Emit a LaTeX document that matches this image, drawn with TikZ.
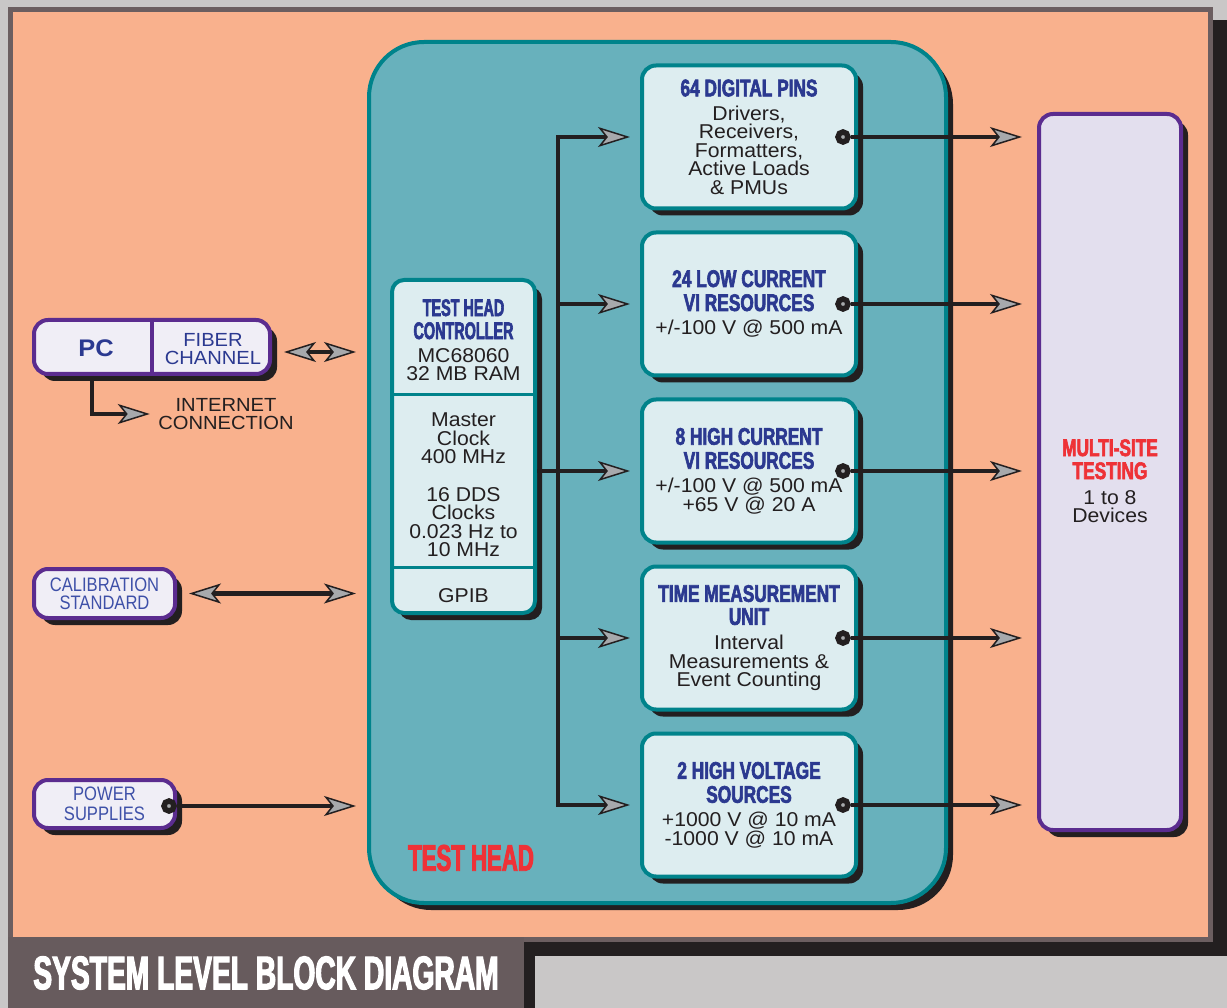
\documentclass[tikz,border=0pt]{standalone}
\usepackage{fontspec}
\setmainfont{Liberation Sans}[FakeStretch=1.06]
\newfontfamily\hdfam{Liberation Sans}[FakeStretch=0.72, FakeBold=2.5]
\newfontfamily\narrowfam{Liberation Sans}[FakeStretch=0.6, FakeBold=2.5]
\newfontfamily\thinfam{Liberation Sans}[FakeStretch=0.85]
\usetikzlibrary{arrows.meta, positioning, shadows}
\definecolor{cbg}{HTML}{C9C7C7}
\definecolor{cframe}{HTML}{6B5E60}
\definecolor{cpeach}{HTML}{F9B18D}
\definecolor{cteal}{HTML}{68B1BC}
\definecolor{ctealdk}{HTML}{00838B}
\definecolor{cunit}{HTML}{DDEDF0}
\definecolor{clav}{HTML}{E3DFEE}
\definecolor{cpcbox}{HTML}{F0EEF6}
\definecolor{cpurple}{HTML}{5B2C8F}
\definecolor{chead}{HTML}{2B3990}
\definecolor{cblue}{HTML}{3E50A8}
\definecolor{cred}{HTML}{EE3237}
\definecolor{cink}{HTML}{231F20}
\definecolor{cgrey}{HTML}{A7A9AC}
\definecolor{ctitle}{HTML}{675B5D}
\newcommand\bodyfont{\fontsize{20}{18.5}\selectfont}
\newcommand\hd{\hdfam\bfseries\fontsize{24}{24}\selectfont\color{chead}}
\newcommand\hdn{\narrowfam\bfseries\fontsize{24}{24}\selectfont\color{chead}}
\tikzset{
  >={Stealth[length=32pt, width=20pt, inset=8pt, fill=cgrey, line width=1.5pt]},
  sh/.style={drop shadow={shadow xshift=7pt, shadow yshift=-7pt, opacity=1, fill=cink}},
  testhead/.style={draw=ctealdk, fill=cteal, line width=4pt, rounded corners=55pt, sh, minimum width=577pt, minimum height=861pt},
  unit/.style={draw=ctealdk, fill=cunit, line width=4pt, rounded corners=14pt, sh, minimum width=214pt, minimum height=143pt, align=center, font=\bodyfont, text=cink, inner sep=0pt},
  side/.style={draw=cpurple, fill=cpcbox, line width=4pt, rounded corners=14pt, sh, align=center},
  txt/.style={align=center, font=\bodyfont, text=cink},
  port/.style={circle, fill=cgrey, draw=cink, line width=5.5pt, minimum size=10pt, inner sep=0pt},
  link/.style={draw=cink, line width=4.5pt},
  arrow/.style={link, ->},
}
\begin{document}
\begin{tikzpicture}[x=1pt, y=-1pt]
  \useasboundingbox (0,0) rectangle (1227,1008);
  % frame and title bar
  \fill[cbg] (0,0) rectangle (1227,1008);
  \fill[cink] (21,20) rectangle (1227,956);
  \fill[cframe] (8,7) rectangle (1213,942);
  \fill[cpeach] (13,12) rectangle (1208,937);
  \fill[cink] (19,942) rectangle (535,1008);
  \fill[ctitle] (8,937) rectangle (524,1008);
  \node[font=\narrowfam\bfseries\fontsize{47}{47}\selectfont, text=white] (title) at (266,973) {SYSTEM LEVEL BLOCK DIAGRAM};
  % test head
  \node[testhead] (head) at (657.5,472.5) {};
  \node[font=\narrowfam\bfseries\fontsize{37}{37}\selectfont, text=cred] (thlabel) at (471,858) {TEST HEAD};
  \node[unit] (dig) at (749,137) {{\hd 64 DIGITAL PINS}\\[5.5pt]Drivers,\\Receivers,\\Formatters,\\Active Loads\\\& PMUs};
  \node[unit] (low) at (749,304) {{\hd 24 LOW CURRENT}\\[5.5pt]{\hd VI RESOURCES}\\[5.5pt]+/-100 V @ 500 mA};
  \node[unit] (high) at (749,471) {{\hd 8 HIGH CURRENT}\\[5.5pt]{\hd VI RESOURCES}\\[5.5pt]+/-100 V @ 500 mA\\+65 V @ 20 A};
  \node[unit] (tmu) at (749,638) {{\hd TIME MEASUREMENT}\\[4.5pt]{\hd UNIT}\\[6.5pt]Interval\\Measurements \&\\Event Counting};
  \node[unit] (hv) at (749,805) {{\hd 2 HIGH VOLTAGE}\\[5.5pt]{\hd SOURCES}\\[5.5pt]+1000 V @ 10 mA\\-1000 V @ 10 mA};
  % controller with its three sections
  \node[unit, minimum width=143pt, minimum height=333pt, rounded corners=12pt] (ctl) at (463.5,446.5) {};
  \draw[ctealdk, line width=3pt] (ctl.west |- 0,395) -- (ctl.east |- 0,395);
  \draw[ctealdk, line width=3pt] (ctl.west |- 0,567) -- (ctl.east |- 0,567);
  \node[txt] (ctltop) at (463.5,340) {{\hdn TEST HEAD}\\[4.5pt]{\hdn CONTROLLER}\\[4.5pt]MC68060\\32 MB RAM};
  \node[txt] (clock) at (463.5,485) {Master\\Clock\\400 MHz\\[19pt]16 DDS\\Clocks\\0.023 Hz to\\10 MHz};
  \node[txt] (gpib) at (463.5,596) {GPIB};
  % outside the test head
  \node[side, minimum width=236pt, minimum height=54pt] (host) at (152,347) {};
  \draw[cpurple, line width=4pt] (host.north) -- (host.south);
  \node[font=\bfseries\fontsize{24}{24}\selectfont, text=chead] (pc) at (96,348) {PC};
  \node[align=center, font=\fontsize{19}{18}\selectfont, text=chead] (fiber) at (213,349) {FIBER\\CHANNEL};
  \node[align=center, font=\fontsize{19}{17.5}\selectfont, text=cink] (inet) at (226,414) {INTERNET\\CONNECTION};
  \node[side, minimum width=141pt, minimum height=49pt, font=\thinfam\fontsize{19.5}{18}\selectfont, text=cblue] (cal) at (104.5,593.5) {CALIBRATION\\STANDARD};
  \node[side, minimum width=141pt, minimum height=48pt, font=\thinfam\fontsize{19.5}{20}\selectfont, text=cblue] (pwr) at (104.5,804) {POWER\\SUPPLIES};
  \node[side, fill=clav, minimum width=142pt, minimum height=716pt] (ms) at (1110,472) {};
  \node[txt] (mstxt) at (1110,481) {{\hd\color{cred} MULTI-SITE}\\[4.5pt]{\hd\color{cred} TESTING}\\[6.5pt]1 to 8\\Devices};
  % connectors
  \draw[arrow, shorten >=5pt] ([xshift=-60pt]host.south) |- (inet.west);
  \draw[link, <->, shorten <=12pt, shorten >=11pt] ([yshift=-5pt]host.east) -- ([yshift=-5pt]host.east -| head.west);
  \draw[link, <->, shorten <=12pt, shorten >=11pt] (cal.east) -- (cal.east -| head.west);
  \node[port] (opwr) at ([xshift=-8pt, yshift=-2pt]pwr.east) {};
  \draw[arrow, shorten >=11pt] (opwr) -- (opwr -| head.west);
  \coordinate (bus) at (558,471);
  \draw[link, <->, shorten <=10pt, shorten >=10pt] (dig.west) -- (bus |- dig.west) -- (bus |- hv.west) -- (hv.west);
  \foreach \n in {low,tmu} \draw[arrow, shorten >=10pt] (bus |- \n.west) -- (\n.west);
  \draw[arrow, shorten >=10pt] (ctl.east |- high.west) -- (high.west);
  \foreach \n in {dig,low,high,tmu,hv}{
    \node[port] (o\n) at ([xshift=-15pt]\n.east) {};
    \draw[arrow, shorten >=15pt] (o\n) -- (o\n -| ms.west);
  }
\end{tikzpicture}
\end{document}
